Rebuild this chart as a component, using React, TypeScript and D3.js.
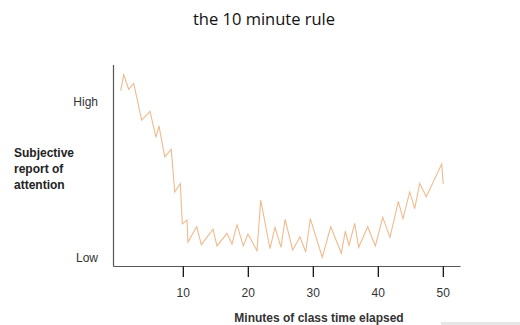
import React from "react";
import * as d3 from "d3";

const minutes = [0.37, 0.83, 1.6, 2.37, 3.6, 4.88, 5.8, 6.26, 7.14, 8.15, 8.68, 9.54, 9.85, 10.57, 10.72, 12.06, 12.77, 14.57, 15.18, 16.72, 17.49, 18.26, 19.23, 19.95, 21.34, 21.91, 23.34, 24.11, 25.03, 25.65, 26.83, 27.95, 28.83, 29.54, 31.38, 32.68, 34.31, 34.92, 35.49, 36.37, 36.98, 38.37, 39.54, 40.68, 41.8, 43.08, 43.8, 44.83, 45.6, 46.37, 47.38, 49.75, 50.0];
const attention = [10.66, 11.69, 10.75, 11.13, 8.78, 9.34, 7.67, 8.4, 6.43, 6.9, 4.17, 4.72, 2.12, 2.37, 0.96, 1.94, 0.79, 1.78, 0.71, 1.52, 0.83, 2.07, 0.71, 1.47, 0.4, 3.65, 0.53, 1.9, 0.62, 2.42, 0.45, 1.3, 0.32, 2.46, -0.02, 1.94, 0.24, 1.65, 0.75, 2.16, 0.62, 1.94, 0.71, 2.54, 1.26, 3.57, 2.46, 4.17, 3.1, 4.72, 3.87, 5.96, 4.68];
const xTicks = [10, 20, 30, 40, 50];
const yTickValues = [0, 10];
const yTickLabels = ["Low", "High"];
const title = "the 10 minute rule";
const yTitleLines = ["Subjective", "report of", "attention"];
const xTitle = "Minutes of class time elapsed";

export default function App() {
  const W = 520, H = 325;
  const x = d3.scaleLinear().domain([0, 50]).range([118.3, 443.3]);
  const y = d3.scaleLinear().domain([0, 10]).range([257, 101]);
  const pts = minutes.map((m, i) => [m, attention[i]] as [number, number]);
  const line = d3.line<[number, number]>().x(d => x(d[0])).y(d => y(d[1]));
  const axisLeft = 113.5;
  const axisTop = 65;
  const axisBottom = 266.5;
  const axisRight = 460.5;
  const sans = "'Liberation Sans', Arial, sans-serif";
  return (
    <svg width={W} height={H} style={{ position: "absolute", left: 0, top: 0, background: "#fff" }}>
      <rect x={0} y={0} width={W} height={H} fill="#fff" />
      <text x={264} y={25} textAnchor="middle" fontFamily="'Open Sans', sans-serif" fontSize={16.5} fill="#111">{title}</text>
      <path d={line(pts) || ""} fill="none" stroke="#EFBB8E" strokeWidth={1.1} />
      <line x1={axisLeft} x2={axisLeft} y1={axisTop} y2={axisBottom} stroke="#555" strokeWidth={1.2} />
      <line x1={axisLeft} x2={axisRight} y1={axisBottom} y2={axisBottom} stroke="#555" strokeWidth={1.2} />
      {xTicks.map(t => (
        <g key={t}>
          <line x1={x(t)} x2={x(t)} y1={axisBottom} y2={277} stroke="#000" strokeWidth={1.2} />
          <text x={x(t)} y={297} textAnchor="middle" fontFamily={sans} fontSize={12} fill="#333">{t}</text>
        </g>
      ))}
      {yTickValues.map((v, i) => (
        <text key={v} x={98} y={y(v) + 4.5} textAnchor="end" fontFamily={sans} fontSize={12} fill="#333">{yTickLabels[i]}</text>
      ))}
      {yTitleLines.map((l, i) => (
        <text key={l} x={14} y={157 + i * 16} fontFamily={sans} fontSize={12} fontWeight="bold" fill="#222">{l}</text>
      ))}
      <text x={319} y={322} textAnchor="middle" fontFamily={sans} fontSize={12} fontWeight="bold" fill="#333">{xTitle}</text>
      <rect x={441} y={322} width={79} height={3} fill="#e6e6e6" />
    </svg>
  );
}
